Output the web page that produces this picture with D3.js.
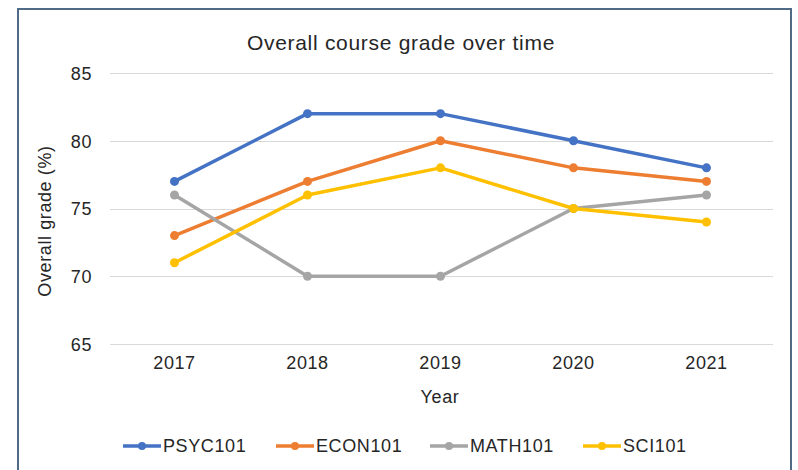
<!DOCTYPE html>
<html>
<head>
<meta charset="utf-8">
<script src="https://cdn.jsdelivr.net/npm/d3@7"></script>
<style>
	body { margin: 0; background: #fff; }
	text { font-family: "Liberation Sans", Arial, sans-serif; fill: #262626; letter-spacing: 0.6px; }
</style>
</head>
<body>
<div id="chart"></div>
<script>
var years = ['2017', '2018', '2019', '2020', '2021'];
var courses = ['PSYC101', 'ECON101', 'MATH101', 'SCI101'];
var psyc101 = [77, 82, 82, 80, 78];
var econ101 = [73, 77, 80, 78, 77];
var math101 = [76, 70, 70, 75, 76];
var sci101 = [71, 76, 78, 75, 74];
var yTicks = [65, 70, 75, 80, 85];
var colors = ['#4472C4', '#ED7D31', '#A5A5A5', '#FFC000'];

(function () {
	var series = [psyc101, econ101, math101, sci101];
	var width = 798, height = 470;

	var svg = d3.select('#chart').append('svg')
		.attr('width', width)
		.attr('height', height);

	// frame (bottom edge runs off the picture)
	svg.append('path')
		.attr('d', 'M18,472 L18,9 L791,9 L791,472')
		.attr('fill', 'none')
		.attr('stroke', '#4f6b87')
		.attr('stroke-width', 2);

	var x = d3.scaleBand().domain(years).range([108, 773]);
	var y = d3.scaleLinear().domain([65, 85]).range([344, 73]);

	// gridlines
	svg.append('g').selectAll('line')
		.data(yTicks).enter()
		.append('line')
		.attr('x1', 110).attr('x2', 773)
		.attr('y1', function(d) { return Math.round(y(d)) + 0.5; })
		.attr('y2', function(d) { return Math.round(y(d)) + 0.5; })
		.attr('stroke', '#d9d9d9')
		.attr('stroke-width', 1);

	var yAxis = svg.append('g')
		.attr('transform', 'translate(110,0)')
		.call(d3.axisLeft(y).tickValues(yTicks).tickSize(0).tickPadding(18));
	yAxis.select('.domain').remove();
	yAxis.selectAll('text').style('font-size', '18px').attr('dy', '0.35em');

	var xAxis = svg.append('g')
		.attr('transform', 'translate(0,344)')
		.call(d3.axisBottom(x).tickSize(0).tickPadding(12));
	xAxis.select('.domain').remove();
	xAxis.selectAll('text').style('font-size', '18px');

	svg.append('text')
		.attr('x', 401).attr('y', 50)
		.attr('text-anchor', 'middle')
		.style('font-size', '21px')
		.style('letter-spacing', '0.7px')
		.text('Overall course grade over time');

	svg.append('text')
		.attr('x', 440).attr('y', 403)
		.attr('text-anchor', 'middle')
		.style('font-size', '18px')
		.text('Year');

	svg.append('text')
		.attr('transform', 'translate(51,221) rotate(-90)')
		.attr('text-anchor', 'middle')
		.style('font-size', '18px')
		.text('Overall grade (%)');

	var line = d3.line()
		.x(function(d, i) { return x(years[i]) + x.bandwidth() / 2; })
		.y(function(d) { return y(d); });

	series.forEach(function(vals, k) {
		var g = svg.append('g');
		g.append('path')
			.attr('d', line(vals))
			.attr('fill', 'none')
			.attr('stroke', colors[k])
			.attr('stroke-width', 3.5)
			.attr('stroke-linejoin', 'round')
			.attr('stroke-linecap', 'round');
		g.selectAll('circle')
			.data(vals).enter()
			.append('circle')
			.attr('cx', function(d, i) { return x(years[i]) + x.bandwidth() / 2; })
			.attr('cy', function(d) { return y(d); })
			.attr('r', 4.5)
			.attr('fill', colors[k]);
	});

	// legend
	var legendX = [123, 276, 430, 583];
	var legend = svg.append('g').selectAll('g')
		.data(courses).enter()
		.append('g')
		.attr('transform', function(d, i) { return 'translate(' + legendX[i] + ',446)'; });
	legend.append('line')
		.attr('x1', 0).attr('x2', 38)
		.attr('stroke', function(d, i) { return colors[i]; })
		.attr('stroke-width', 3.5);
	legend.append('circle')
		.attr('cx', 19).attr('r', 4)
		.attr('fill', function(d, i) { return colors[i]; });
	legend.append('text')
		.attr('x', 40).attr('dy', '0.35em')
		.style('font-size', '18px')
		.text(function(d) { return d; });
})();
</script>
</body>
</html>
